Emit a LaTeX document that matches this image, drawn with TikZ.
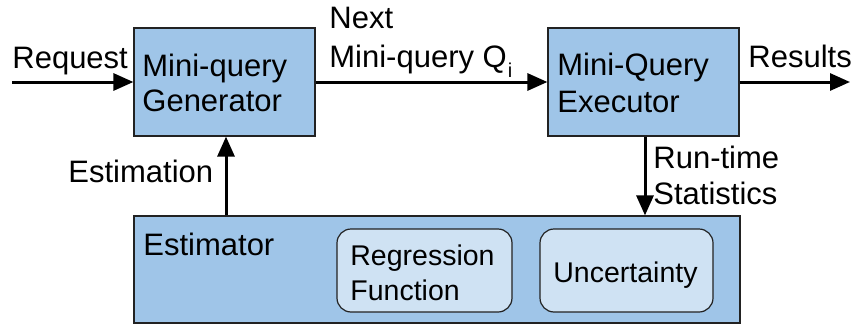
\documentclass[tikz,border=0pt]{standalone}
\usepackage{fontspec}
\setmainfont{Liberation Sans}
\usetikzlibrary{arrows.meta,fit}
\definecolor{boxblue}{HTML}{9FC5E8}
\definecolor{innerblue}{HTML}{CFE2F3}
\definecolor{edge}{HTML}{222222}
\newcommand{\bigtxt}{\fontsize{15.5pt}{18pt}\selectfont}
\newcommand{\smalltxt}{\fontsize{14.25pt}{17pt}\selectfont}
\tikzset{
  blockbox/.style={draw=edge, line width=0.6pt, fill=boxblue, inner sep=0pt},
  subbox/.style={draw=edge, line width=0.6pt, fill=innerblue, inner sep=0pt, rounded corners=7pt},
  lbl/.style={anchor=base west, inner sep=0pt, font=\bigtxt},
  sublbl/.style={anchor=base west, inner sep=0pt, font=\smalltxt},
  flow/.style={line width=1.5pt, -{Triangle[length=10pt,width=8.5pt]}}
}
\begin{document}
\begin{tikzpicture}[x=0.5pt, y=-0.5pt]
\useasboundingbox (0,0) rectangle (858,327);

% main blocks
\node[blockbox, fit={(134,28) (315,136)}] (gen) {};
\node[blockbox, fit={(548,28) (739,136)}] (exe) {};
\node[blockbox, fit={(134,216) (740,323)}] (est) {};
\node[subbox, fit={(337,229) (512,312)}] (reg) {};
\node[subbox, fit={(540,229) (713,312)}] (unc) {};

% block texts
\node[lbl] (gen1) at (142,76) {Mini-query};
\node[lbl] (gen2) at (142,111) {Generator};
\node[lbl] (exe1) at (557,75) {Mini-Query};
\node[lbl] (exe2) at (557,112) {Executor};
\node[lbl] (estt) at (143,255) {Estimator};
\node[sublbl] (reg1) at (350,265) {Regression};
\node[sublbl] (reg2) at (350,300) {Function};
\node[sublbl] (unct) at (553,282) {Uncertainty};

% free ends of the outer arrows
\coordinate (in) at (12,82);
\coordinate (out) at (850,82);

% connectors
\draw[flow] (in) -- (gen.west |- in);
\draw[flow] (gen.east |- in) -- (exe.west |- in);
\draw[flow] (exe.east |- out) -- (out);
\draw[flow] (est.north -| 226,0) -- (gen.south -| 226,0);
\draw[flow] (exe.south -| 645,0) -- (est.north -| 645,0);

% connector labels
\node[lbl] (req) at (12,68) {Request};
\node[lbl] (nxt1) at (329,28) {Next};
\node[lbl] (nxt2) at (329,67) {Mini-query Q\kern0.5pt\raisebox{-5pt}{\fontsize{10pt}{10pt}\selectfont i}};
\node[lbl] (res) at (748,67) {Results};
\node[lbl] (esn) at (68,182) {Estimation};
\node[lbl] (rt1) at (653,168) {Run-time};
\node[lbl] (rt2) at (653,204) {Statistics};
\end{tikzpicture}
\end{document}
